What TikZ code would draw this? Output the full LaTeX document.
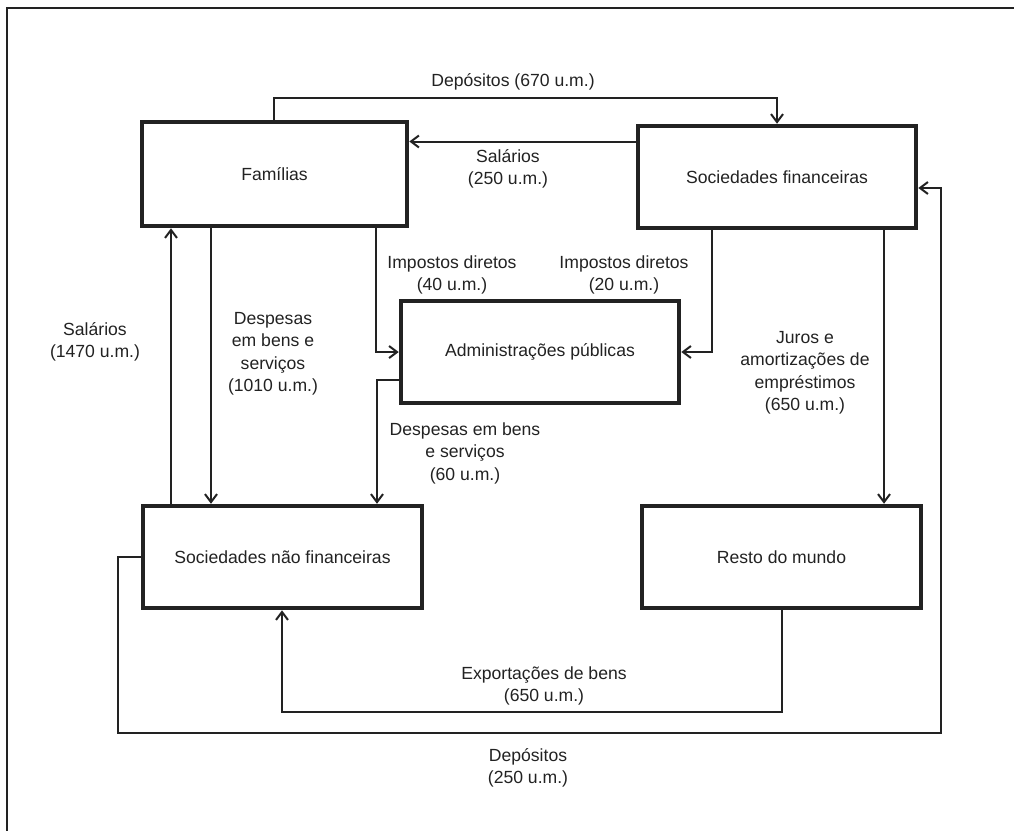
\documentclass[tikz,border=0pt]{standalone}
\usepackage{fontspec}
\setmainfont{Liberation Sans}
\usetikzlibrary{arrows.meta,calc}
\definecolor{ink}{HTML}{222222}
\begin{document}
\begin{tikzpicture}[x=1pt,y=-1pt,
  box/.style={draw=ink, line width=4.5pt, rectangle, inner sep=0pt, font=\fontsize{17.6}{22.5}\selectfont, text=ink},
  conn/.style={draw=ink, line width=2pt, -{Straight Barb[length=8pt,width=12pt,line width=2pt]}},
  lbl/.style={align=center, font=\fontsize{17.6}{22.5}\selectfont, text=ink, inner sep=0pt}]
\useasboundingbox (0,0) rectangle (1014,830);
\clip (0,0) rectangle (1014,830);
\draw[line width=2pt, draw=ink] (7,8) rectangle (1040,860);

% boxes
\node[box, minimum width=265pt, minimum height=104pt] (fam) at (274.5,174) {Famílias};
\node[box, minimum width=278pt, minimum height=102pt] (sf) at (777,177) {Sociedades financeiras};
\node[box, minimum width=278pt, minimum height=102pt] (adm) at (540,352) {Administrações públicas};
\node[box, minimum width=279pt, minimum height=102pt] (snf) at (282.5,557) {Sociedades não financeiras};
\node[box, minimum width=279pt, minimum height=102pt] (rm) at (781.5,557) {Resto do mundo};

% helper coordinates
\coordinate (dep1) at (274,98);
\coordinate (ysal) at (0,141.5);
\coordinate (imp40) at (376,352);
\coordinate (imp20) at (712,352);
\coordinate (sal2) at (171,0);
\coordinate (desp) at (211,0);
\coordinate (d60) at (377,380);
\coordinate (jx) at (884,0);
\coordinate (ex1) at (782,712);
\coordinate (ex2) at (282,712);
\coordinate (dp1) at (118,557);
\coordinate (dp2) at (118,733);
\coordinate (dp3) at (941,733);
\coordinate (dp4) at (941,188);

% connectors
\draw[conn] (fam.north -| dep1) -- (dep1) -- (dep1 -| sf.north) -- (sf.north);
\draw[conn] (sf.west |- ysal) -- (fam.east |- ysal);
\draw[conn] (fam.south -| imp40) -- (imp40) -- (adm.west);
\draw[conn] (sf.south -| imp20) -- (imp20) -- (adm.east);
\draw[conn] (snf.north -| sal2) -- (fam.south -| sal2);
\draw[conn] (fam.south -| desp) -- (snf.north -| desp);
\draw[conn] (adm.west |- d60) -- (d60) -- (snf.north -| d60);
\draw[conn] (sf.south -| jx) -- (rm.north -| jx);
\draw[conn] (rm.south -| ex1) -- (ex1) -- (ex2) -- (snf.south -| ex2);
\draw[conn] (snf.west |- dp1) -- (dp1) -- (dp2) -- (dp3) -- (dp4) -- (sf.east |- dp4);

% labels
\node[lbl] (l1) at (513,82) {Depósitos (670 u.m.)};
\node[lbl] (l2) at (508,169) {Salários\\(250 u.m.)};
\node[lbl] (l3) at (452,275) {Impostos diretos\\(40 u.m.)};
\node[lbl] (l4) at (624,275) {Impostos diretos\\(20 u.m.)};
\node[lbl] (l5) at (95,342) {Salários\\(1470 u.m.)};
\node[lbl] (l6) at (273,354) {Despesas\\em bens e\\serviços\\(1010 u.m.)};
\node[lbl] (l7) at (465,453) {Despesas em bens\\e serviços\\(60 u.m.)};
\node[lbl] (l8) at (805,373) {Juros e\\amortizações de\\empréstimos\\(650 u.m.)};
\node[lbl] (l9) at (544,686) {Exportações de bens\\(650 u.m.)};
\node[lbl] (l10) at (528,768) {Depósitos\\(250 u.m.)};
\end{tikzpicture}
\end{document}
